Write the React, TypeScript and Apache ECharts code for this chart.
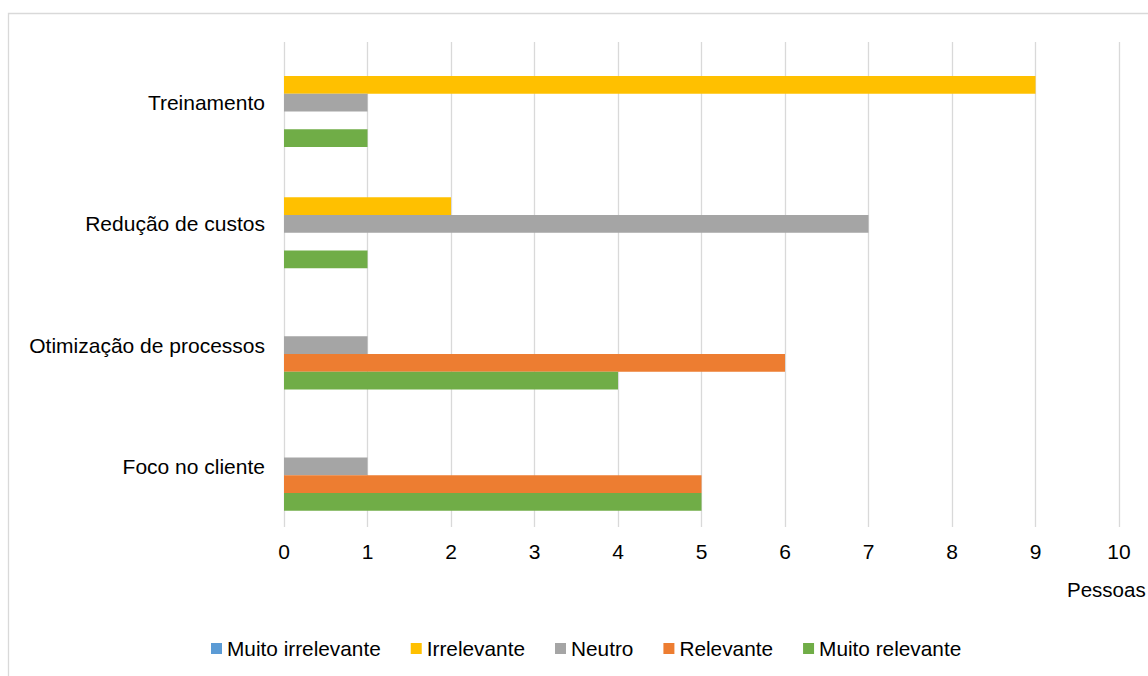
import React, { useEffect, useRef } from "react";
import * as echarts from "echarts";

const categories = ["Foco no cliente", "Otimização de processos", "Redução de custos", "Treinamento"];
const seriesNames = ["Muito irrelevante", "Irrelevante", "Neutro", "Relevante", "Muito relevante"];
const muitoIrrelevante = [0, 0, 0, 0];
const irrelevante = [0, 0, 2, 9];
const neutro = [1, 1, 7, 1];
const relevante = [5, 6, 0, 0];
const muitoRelevante = [5, 4, 1, 1];
const colors = ["#5b9bd5", "#ffc000", "#a5a5a5", "#ed7d31", "#70ad47"];
const xTicks = { min: 0, max: 10, interval: 1 };
const axisTitle = "Pessoas";

const FONT = "'Liberation Sans', Arial, sans-serif";

export default function App() {
  const ref = useRef<HTMLDivElement>(null);
  useEffect(() => {
    if (!ref.current) return;
    const chart = echarts.init(ref.current, null, { renderer: "svg" });
    const values = [muitoIrrelevante, irrelevante, neutro, relevante, muitoRelevante];
    chart.setOption({
      animation: false,
      textStyle: { fontFamily: FONT },
      color: colors,
      graphic: [
        {
          type: "rect",
          shape: { x: 8.5, y: 13.5, width: 1160, height: 700 },
          style: { fill: "none", stroke: "#d9d9d9", lineWidth: 1.3 },
          silent: true,
        },
        {
          type: "text",
          left: 1067,
          top: 579,
          style: { text: axisTitle, fontSize: 20.5, fontFamily: FONT, fill: "#000" },
        },
      ],
      grid: { left: 284, top: 42, width: 835, height: 485, containLabel: false },
      xAxis: {
        type: "value",
        min: xTicks.min,
        max: xTicks.max,
        interval: xTicks.interval,
        axisLine: { show: false },
        axisTick: { show: false },
        splitLine: { show: true, lineStyle: { color: "#d9d9d9", width: 1.3 } },
        axisLabel: { fontSize: 21, color: "#000", margin: 14, fontFamily: FONT },
      },
      yAxis: {
        type: "category",
        data: categories,
        axisLine: { show: false },
        axisTick: { show: false },
        axisLabel: { fontSize: 21, color: "#000", margin: 19, fontFamily: FONT },
      },
      legend: {
        data: seriesNames,
        left: 206,
        top: 633,
        itemWidth: 11,
        itemHeight: 11,
        itemGap: 30,
        icon: "rect",
        textStyle: { fontSize: 20.8, color: "#000", fontFamily: FONT },
      },
      series: seriesNames.map((name, i) => ({
        name,
        type: "bar",
        data: values[i],
        barGap: "0%",
        barCategoryGap: "27%",
        itemStyle: { color: colors[i] },
      })),
    });
    return () => chart.dispose();
  }, []);
  return (
    <div
      ref={ref}
      style={{ position: "absolute", left: 0, top: 0, width: 1148, height: 676, background: "#fff" }}
    />
  );
}
